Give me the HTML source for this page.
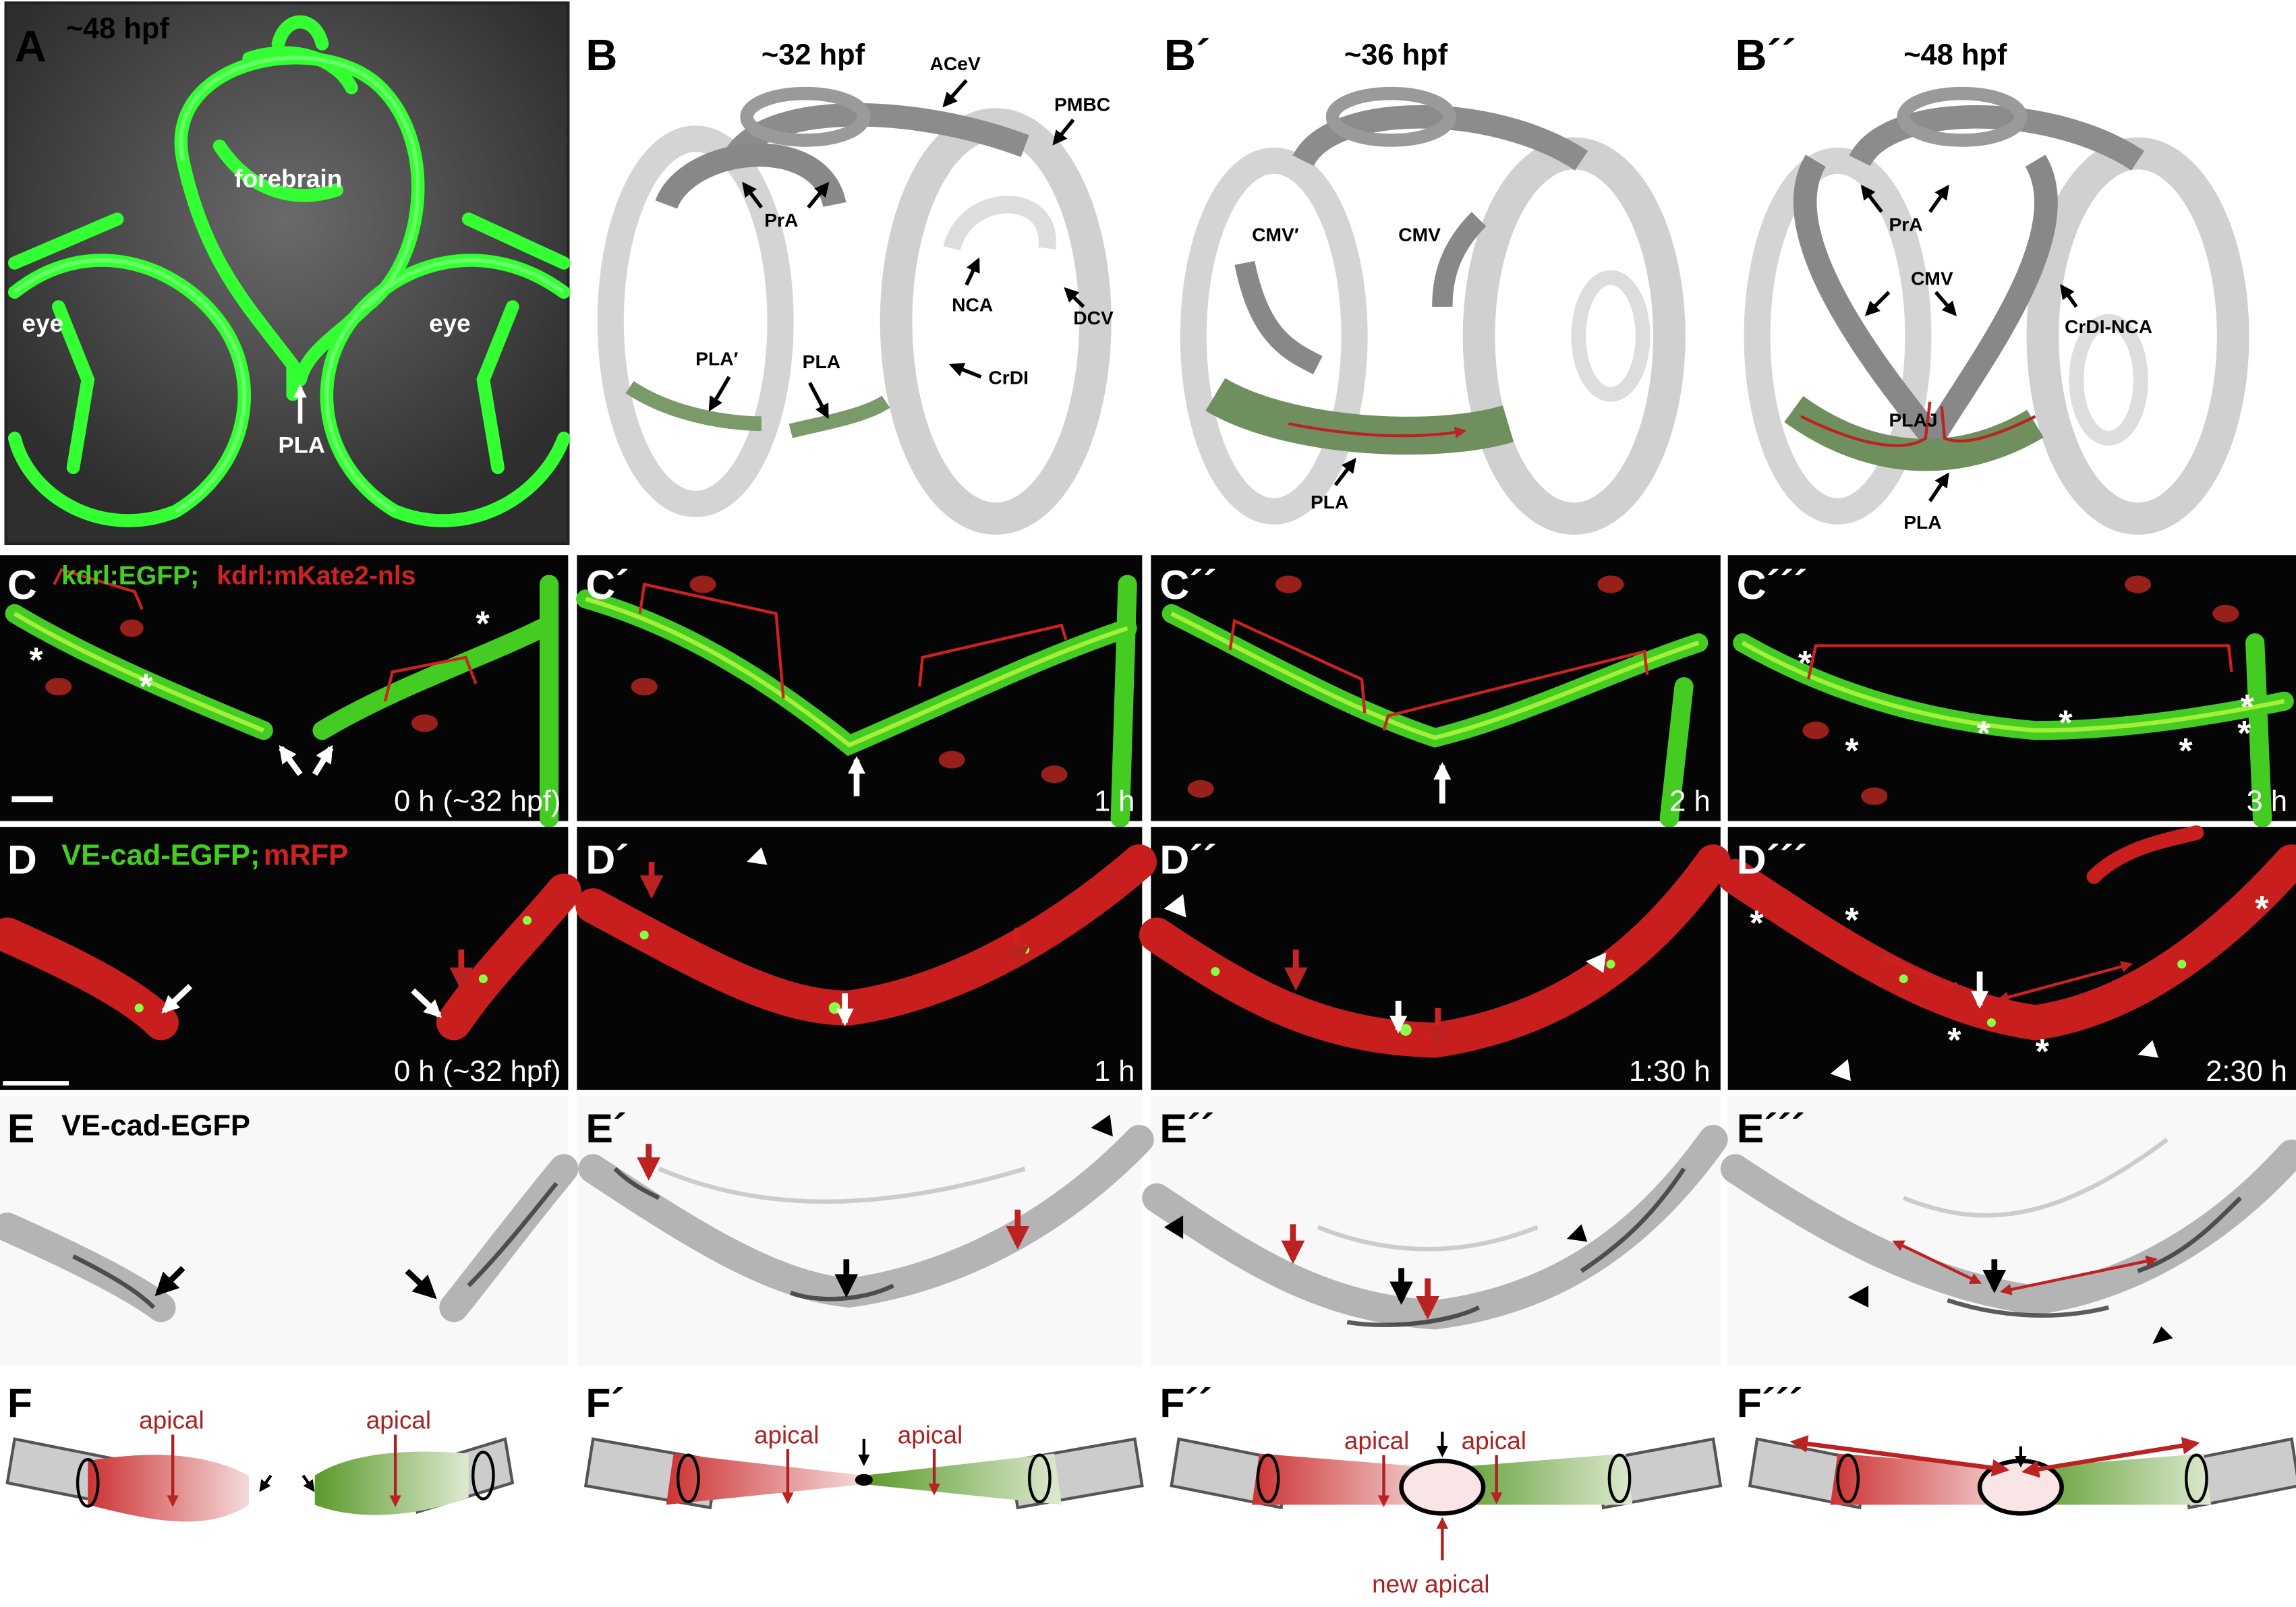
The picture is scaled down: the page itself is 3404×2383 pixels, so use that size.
<!DOCTYPE html>
<html><head><meta charset="utf-8"><style>
html,body{margin:0;padding:0;background:#fff;}
svg{display:block;}
text{font-family:"Liberation Sans",sans-serif;}
</style></head><body>
<svg width="3404" height="2383" viewBox="0 0 1568 1100" preserveAspectRatio="none" xmlns="http://www.w3.org/2000/svg">
<defs>
<marker id="ab" viewBox="0 0 10 10" refX="8" refY="5" markerWidth="4" markerHeight="4" orient="auto"><path d="M0,0L10,5L0,10z" fill="#000"/></marker>
<marker id="aw" viewBox="0 0 10 10" refX="8" refY="5" markerWidth="3" markerHeight="3" orient="auto"><path d="M0,0L10,5L0,10z" fill="#fff"/></marker>
<marker id="ar" viewBox="0 0 10 10" refX="8" refY="5" markerWidth="4" markerHeight="4" orient="auto"><path d="M0,0L10,5L0,10z" fill="#b22"/></marker>
<marker id="ars" viewBox="0 0 10 10" refX="2" refY="5" markerWidth="4" markerHeight="4" orient="auto-start-reverse"><path d="M0,0L10,5L0,10z" fill="#b22"/></marker>
<radialGradient id="ga" cx="50%" cy="40%" r="60%"><stop offset="0" stop-color="#6a6a6a"/><stop offset="1" stop-color="#2e2e2e"/></radialGradient>
<linearGradient id="fr" x1="0" x2="1"><stop offset="0" stop-color="#c33"/><stop offset="1" stop-color="#f5dada"/></linearGradient>
<linearGradient id="fg" x1="1" x2="0"><stop offset="0" stop-color="#dde9d0"/><stop offset="1" stop-color="#5a9a2a"/></linearGradient>
</defs>
<!-- Panel A -->
<rect x="4" y="2" width="384" height="370" fill="url(#ga)" stroke="#222" stroke-width="2"/>
<g fill="none" stroke="#3f3" stroke-width="9" stroke-linecap="round">
<path d="M125,110 C110,40 220,20 260,60 C300,100 290,180 250,210 C230,230 210,240 205,260"/>
<path d="M125,110 C140,180 170,210 200,250"/>
<path d="M170,40 C200,30 230,40 240,60"/>
<path d="M10,200 C60,160 120,180 150,220 C180,260 170,320 120,350 C70,370 20,340 10,300"/>
<path d="M385,200 C330,160 270,180 240,220 C210,260 220,320 270,350 C320,370 370,340 385,300"/>
<path d="M40,210 L60,260 L50,320 M350,210 L330,260 L340,320"/>
<path d="M200,250 L200,270 M10,180 L80,150 M385,180 L320,150"/>
<path d="M150,100 C170,130 200,140 230,130 M190,30 C195,10 215,10 220,30"/>
</g>
<g fill="none" stroke="#8f8" stroke-width="3" opacity="0.6">
<path d="M125,110 C110,40 220,20 260,60 C300,100 290,180 250,210"/>
<path d="M10,200 C60,160 120,180 150,220 C180,260 170,320 120,350"/>
<path d="M385,200 C330,160 270,180 240,220 C210,260 220,320 270,350"/>
</g>
<text x="10" y="42" font-size="30" font-weight="bold" fill="#000">A</text>
<text x="45" y="26" font-size="20" font-weight="bold" fill="#000">~48 hpf</text>
<text x="160" y="128" font-size="17" font-weight="bold" fill="#fff">forebrain</text>
<text x="15" y="227" font-size="17" font-weight="bold" fill="#fff">eye</text>
<text x="293" y="227" font-size="17" font-weight="bold" fill="#fff">eye</text>
<text x="190" y="310" font-size="16" font-weight="bold" fill="#fff">PLA</text>
<path d="M205,290 L205,265" stroke="#fff" stroke-width="3" marker-end="url(#aw)"/>
<!-- B panels -->
<g>
<text x="400" y="48" font-size="30" font-weight="bold">B</text>
<text x="520" y="44" font-size="20" font-weight="bold">~32 hpf</text>
<ellipse cx="475" cy="220" rx="58" ry="125" fill="none" stroke="#d4d4d4" stroke-width="18"/>
<ellipse cx="680" cy="220" rx="68" ry="135" fill="none" stroke="#d0d0d0" stroke-width="22"/>
<path d="M500,110 C520,70 620,70 700,100" fill="none" stroke="#8c8c8c" stroke-width="16"/>
<ellipse cx="550" cy="80" rx="40" ry="16" fill="none" stroke="#9a9a9a" stroke-width="9"/>
<path d="M455,140 C470,100 560,90 570,140" fill="none" stroke="#888" stroke-width="16"/>
<path d="M650,170 C660,130 720,130 715,170" fill="none" stroke="#ddd" stroke-width="12"/>
<path d="M430,265 C460,285 500,290 520,290" stroke="#7a9a6a" stroke-width="10" fill="none"/>
<path d="M540,295 C560,290 590,285 605,275" stroke="#7a9a6a" stroke-width="10" fill="none"/>
<g font-size="13" font-weight="bold"><text x="635" y="48">ACeV</text><text x="720" y="76">PMBC</text><text x="522" y="155">PrA</text><text x="650" y="213">NCA</text><text x="733" y="222">DCV</text><text x="475" y="250">PLA′</text><text x="548" y="252">PLA</text><text x="675" y="263">CrDI</text></g>
<g stroke="#000" stroke-width="2.5" marker-end="url(#ab)">
<path d="M660,55 L645,72"/><path d="M733,82 L720,98"/><path d="M520,142 L508,126"/><path d="M552,142 L565,126"/>
<path d="M660,195 L668,178"/><path d="M740,210 L728,198"/><path d="M670,258 L650,250"/><path d="M498,258 L485,280"/><path d="M553,262 L565,285"/>
</g>
</g>
<g>
<text x="795" y="48" font-size="30" font-weight="bold">B´</text>
<text x="918" y="44" font-size="20" font-weight="bold">~36 hpf</text>
<ellipse cx="870" cy="230" rx="55" ry="120" fill="none" stroke="#d4d4d4" stroke-width="18"/>
<ellipse cx="1075" cy="230" rx="65" ry="125" fill="none" stroke="#d0d0d0" stroke-width="22"/>
<ellipse cx="1100" cy="230" rx="22" ry="40" fill="none" stroke="#ddd" stroke-width="10"/>
<path d="M890,110 C910,70 1020,70 1080,110" fill="none" stroke="#8c8c8c" stroke-width="16"/>
<ellipse cx="950" cy="80" rx="40" ry="16" fill="none" stroke="#9a9a9a" stroke-width="9"/>
<path d="M850,180 C860,230 880,240 900,250" fill="none" stroke="#888" stroke-width="14"/>
<path d="M1010,150 C990,170 985,190 985,210" fill="none" stroke="#888" stroke-width="14"/>
<path d="M830,270 C880,300 980,305 1030,290" stroke="#6f8f5f" stroke-width="26" fill="none"/>
<path d="M880,290 C930,300 970,300 1000,295" stroke="#b22" stroke-width="2" fill="none" marker-end="url(#ar)"/>
<g font-size="13" font-weight="bold"><text x="855" y="165">CMV′</text><text x="955" y="165">CMV</text><text x="895" y="348">PLA</text></g>
<path d="M912,332 L925,315" stroke="#000" stroke-width="2.5" marker-end="url(#ab)"/>
</g>
<g>
<text x="1185" y="48" font-size="30" font-weight="bold">B´´</text>
<text x="1300" y="44" font-size="20" font-weight="bold">~48 hpf</text>
<ellipse cx="1255" cy="230" rx="55" ry="120" fill="none" stroke="#d4d4d4" stroke-width="18"/>
<ellipse cx="1460" cy="230" rx="65" ry="125" fill="none" stroke="#d0d0d0" stroke-width="22"/>
<ellipse cx="1440" cy="260" rx="22" ry="40" fill="none" stroke="#ddd" stroke-width="10"/>
<path d="M1270,110 C1290,70 1400,70 1460,110" fill="none" stroke="#8c8c8c" stroke-width="16"/>
<ellipse cx="1340" cy="80" rx="40" ry="16" fill="none" stroke="#9a9a9a" stroke-width="9"/>
<path d="M1240,110 C1210,160 1280,250 1320,300 C1350,250 1420,160 1390,110" fill="none" stroke="#888" stroke-width="16"/>
<path d="M1225,280 C1280,320 1340,320 1390,290" stroke="#6f8f5f" stroke-width="22" fill="none"/>
<path d="M1230,285 C1270,305 1300,310 1315,300 L1318,275 M1390,285 C1360,300 1340,305 1328,300 L1326,278" stroke="#b22" stroke-width="2" fill="none"/>
<g font-size="13" font-weight="bold"><text x="1290" y="158">PrA</text><text x="1305" y="195">CMV</text><text x="1410" y="228">CrDI-NCA</text><text x="1290" y="292">PLAJ</text><text x="1300" y="362">PLA</text></g>
<g stroke="#000" stroke-width="2.5" marker-end="url(#ab)">
<path d="M1285,145 L1272,128"/><path d="M1318,145 L1330,128"/><path d="M1290,200 L1275,215"/><path d="M1322,200 L1335,215"/><path d="M1418,210 L1408,196"/><path d="M1318,343 L1330,325"/>
</g>
</g>
<!-- C row -->
<g>
<rect x="0" y="380" width="388" height="182" fill="#050505"/>
<rect x="394" y="380" width="386" height="182" fill="#050505"/>
<rect x="786" y="380" width="389" height="182" fill="#050505"/>
<rect x="1180" y="380" width="388" height="182" fill="#050505"/>
<g fill="#b3261e" opacity="0.85">
<ellipse cx="40" cy="470" rx="9" ry="6"/><ellipse cx="290" cy="495" rx="9" ry="6"/><ellipse cx="480" cy="400" rx="9" ry="6"/><ellipse cx="440" cy="470" rx="9" ry="6"/><ellipse cx="650" cy="520" rx="9" ry="6"/><ellipse cx="880" cy="400" rx="9" ry="6"/><ellipse cx="1100" cy="400" rx="9" ry="6"/><ellipse cx="820" cy="540" rx="9" ry="6"/><ellipse cx="1240" cy="500" rx="9" ry="6"/><ellipse cx="1460" cy="400" rx="9" ry="6"/><ellipse cx="1520" cy="420" rx="9" ry="6"/><ellipse cx="1280" cy="545" rx="9" ry="6"/><ellipse cx="90" cy="430" rx="8" ry="6"/><ellipse cx="720" cy="530" rx="9" ry="6"/>
</g>
<g fill="none" stroke="#4c2" stroke-width="13" stroke-linecap="round">
<path d="M10,420 C60,450 120,475 180,500 M220,500 C270,470 330,450 370,430"/>
<path d="M400,410 C470,430 530,470 580,510 C650,480 710,450 770,430"/>
<path d="M800,420 C860,450 920,485 980,505 C1040,490 1100,460 1160,440"/>
<path d="M1190,440 C1260,480 1330,495 1390,500 C1450,500 1510,490 1560,480"/>
<path d="M375,400 L375,560 M770,400 L765,560 M1150,470 L1140,560 M1540,440 L1545,560"/>
</g>
<g fill="none" stroke="#cf4" stroke-width="3" opacity="0.7">
<path d="M10,420 C60,450 120,475 180,500"/><path d="M400,410 C470,430 530,470 580,510 C650,480 710,450 770,430"/><path d="M800,420 C860,450 920,485 980,505 C1040,490 1100,460 1160,440"/><path d="M1190,440 C1260,480 1330,495 1390,500 C1450,500 1510,490 1560,480"/>
</g>
<g fill="none" stroke="#c22" stroke-width="2">
<path d="M37,400 L42,390 L92,405 L97,417"/><path d="M263,480 L268,460 L318,450 L325,468"/>
<path d="M437,420 L440,400 L530,420 L535,478"/><path d="M628,470 L630,450 L725,428 L728,438"/>
<path d="M840,445 L843,425 L930,465 L932,488"/><path d="M945,500 L948,490 L1123,446 L1125,462"/>
<path d="M1235,465 L1240,442 L1522,442 L1524,460"/>
</g>
<g font-size="24" font-weight="bold" fill="#fff"><text x="20" y="460">*</text><text x="95" y="478">*</text><text x="325" y="435">*</text><text x="1228" y="462">*</text><text x="1530" y="492">*</text><text x="1260" y="522">*</text><text x="1350" y="510">*</text><text x="1406" y="503">*</text><text x="1488" y="522">*</text><text x="1528" y="510">*</text></g>
<g stroke="#fff" stroke-width="4" marker-end="url(#aw)">
<path d="M205,530 L192,512"/><path d="M215,530 L226,512"/><path d="M585,545 L585,520"/><path d="M985,550 L985,524"/>
</g>
<g font-size="28" font-weight="bold" fill="#fff"><text x="5" y="410">C</text><text x="400" y="410">C´</text><text x="792" y="410">C´´</text><text x="1186" y="410">C´´´</text></g>
<text x="42" y="400" font-size="18" font-weight="bold" fill="#4c2">kdrl:EGFP;</text><text x="148" y="400" font-size="18" font-weight="bold" fill="#c22">kdrl:mKate2-nls</text>
<g font-size="20" fill="#fff" text-anchor="end"><text x="383" y="555">0 h (~32 hpf)</text><text x="775" y="555">1 h</text><text x="1168" y="555">2 h</text><text x="1562" y="555">3 h</text></g>
<rect x="8" y="545" width="28" height="4" fill="#fff"/>
</g>
<!-- D row -->
<g>
<rect x="0" y="566" width="388" height="180" fill="#050505"/>
<rect x="394" y="566" width="386" height="180" fill="#050505"/>
<rect x="786" y="566" width="389" height="180" fill="#050505"/>
<rect x="1180" y="566" width="388" height="180" fill="#050505"/>
<g fill="none" stroke="#c81e1e" stroke-width="24" stroke-linecap="round">
<path d="M5,640 C50,660 90,680 110,700 M310,700 C330,670 360,640 385,610"/>
<path d="M405,620 C480,660 530,690 580,690 C650,680 720,640 778,590"/>
<path d="M790,640 C850,680 900,710 980,712 C1060,700 1120,660 1170,590"/>
<path d="M1185,600 C1260,650 1320,690 1390,700 C1460,690 1520,640 1565,590"/>
<path d="M1430,600 C1450,580 1480,575 1500,570" stroke-width="10"/>
</g>
<g fill="#8f4"><circle cx="95" cy="690" r="3"/><circle cx="330" cy="670" r="3"/><circle cx="360" cy="630" r="3"/><circle cx="570" cy="690" r="4"/><circle cx="440" cy="640" r="3"/><circle cx="700" cy="650" r="3"/><circle cx="960" cy="705" r="4"/><circle cx="830" cy="665" r="3"/><circle cx="1100" cy="660" r="3"/><circle cx="1360" cy="700" r="3"/><circle cx="1300" cy="670" r="3"/><circle cx="1490" cy="660" r="3"/></g>
<g stroke="#c22" stroke-width="4" marker-end="url(#ar)"><path d="M315,650 L315,675"/><path d="M445,590 L445,612"/><path d="M695,635 L695,660"/><path d="M885,650 L885,675"/><path d="M982,690 L982,715"/></g>
<g stroke="#c22" stroke-width="2" marker-end="url(#ar)" marker-start="url(#ars)"><path d="M1285,655 L1340,678"/><path d="M1370,683 L1455,660"/></g>
<g stroke="#fff" stroke-width="4" marker-end="url(#aw)"><path d="M130,675 L112,692"/><path d="M282,678 L300,695"/><path d="M577,680 L577,700"/><path d="M955,685 L955,705"/><path d="M1352,665 L1352,688"/></g>
<g fill="#fff"><path d="M520,580 L510,590 L524,592z"/><path d="M795,622 L808,612 L810,628z"/><path d="M1097,652 L1083,658 L1095,666z"/><path d="M1250,735 L1262,725 L1264,740z"/><path d="M1470,712 L1460,722 L1474,724z"/></g>
<g font-size="24" font-weight="bold" fill="#fff"><text x="1195" y="640">*</text><text x="1260" y="638">*</text><text x="1330" y="720">*</text><text x="1390" y="728">*</text><text x="1540" y="630">*</text></g>
<g font-size="28" font-weight="bold" fill="#fff"><text x="5" y="598">D</text><text x="400" y="598">D´</text><text x="792" y="598">D´´</text><text x="1186" y="598">D´´´</text></g>
<text x="42" y="592" font-size="20" font-weight="bold" fill="#4c2">VE-cad-EGFP;</text><text x="180" y="592" font-size="20" font-weight="bold" fill="#c22">mRFP</text>
<g font-size="20" fill="#fff" text-anchor="end"><text x="383" y="740">0 h (~32 hpf)</text><text x="775" y="740">1 h</text><text x="1168" y="740">1:30 h</text><text x="1562" y="740">2:30 h</text></g>
<rect x="2" y="740" width="45" height="3" fill="#fff"/>
</g>
<!-- E row -->
<g>
<rect x="0" y="750" width="388" height="185" fill="#f8f8f8"/>
<rect x="394" y="750" width="386" height="185" fill="#f8f8f8"/>
<rect x="786" y="750" width="389" height="185" fill="#f8f8f8"/>
<rect x="1180" y="750" width="388" height="185" fill="#f8f8f8"/>
<g fill="none" stroke="#b4b4b4" stroke-width="20" stroke-linecap="round">
<path d="M5,840 C50,860 90,880 110,895 M310,895 C330,870 360,830 385,800"/>
<path d="M405,800 C480,850 530,880 580,885 C650,875 720,840 778,780"/>
<path d="M790,820 C850,860 900,895 980,900 C1060,890 1120,850 1170,780"/>
<path d="M1185,800 C1260,850 1320,880 1390,890 C1460,880 1520,840 1565,790"/>
</g>
<g fill="none" stroke="#333" stroke-width="3" opacity="0.8">
<path d="M50,860 C80,875 95,885 105,895"/><path d="M320,880 C340,860 360,835 380,810"/>
<path d="M540,885 C560,892 590,890 610,880"/><path d="M420,800 C430,810 440,815 450,820"/>
<path d="M920,905 C950,910 990,905 1010,895"/><path d="M1080,870 C1110,850 1130,830 1150,800"/>
<path d="M1330,890 C1360,900 1400,905 1440,895"/><path d="M1460,870 C1490,860 1510,840 1530,820"/>
</g>
<g fill="none" stroke="#ccc" stroke-width="3"><path d="M450,800 C520,830 600,830 700,800"/><path d="M900,840 C950,860 1000,860 1050,840"/><path d="M1300,820 C1350,840 1400,840 1480,780"/></g>
<g stroke="#000" stroke-width="4" marker-end="url(#ab)"><path d="M125,868 L108,885"/><path d="M278,870 L296,887"/><path d="M578,862 L578,885"/><path d="M957,868 L957,890"/><path d="M1362,862 L1362,882"/></g>
<g stroke="#b22" stroke-width="4" marker-end="url(#ar)"><path d="M443,783 L443,805"/><path d="M695,828 L695,852"/><path d="M883,838 L883,862"/><path d="M975,875 L975,900"/></g>
<g stroke="#b22" stroke-width="2" marker-end="url(#ar)" marker-start="url(#ars)"><path d="M1298,852 L1352,878"/><path d="M1372,883 L1472,862"/></g>
<g fill="#000"><path d="M758,763 L745,772 L760,778z"/><path d="M795,840 L808,832 L808,848z"/><path d="M1080,838 L1070,848 L1084,850z"/><path d="M1262,888 L1276,880 L1276,895z"/><path d="M1476,908 L1470,920 L1484,916z"/></g>
<g font-size="28" font-weight="bold" fill="#000"><text x="5" y="782">E</text><text x="400" y="782">E´</text><text x="792" y="782">E´´</text><text x="1186" y="782">E´´´</text></g>
<text x="42" y="777" font-size="20" font-weight="bold">VE-cad-EGFP</text>
</g>
<!-- F row -->
<g font-size="28" font-weight="bold"><text x="5" y="970">F</text><text x="400" y="970">F´</text><text x="792" y="970">F´´</text><text x="1186" y="970">F´´´</text></g>
<g>
<g>
<path d="M10,985 L110,1005 L105,1035 L5,1015z" fill="#ccc" stroke="#555" stroke-width="2"/>
<path d="M280,1005 L345,985 L350,1015 L285,1035z" fill="#ccc" stroke="#555" stroke-width="2"/>
<path d="M60,1000 C120,990 150,1000 170,1010 L170,1030 C140,1050 100,1040 60,1030z" fill="url(#fr)"/>
<path d="M320,995 C260,990 230,1000 215,1010 L215,1030 C240,1040 280,1040 320,1025z" fill="url(#fg)"/>
<ellipse cx="60" cy="1015" rx="7" ry="16" fill="none" stroke="#000" stroke-width="2"/><ellipse cx="330" cy="1010" rx="7" ry="16" fill="none" stroke="#000" stroke-width="2"/>
<text x="95" y="978" font-size="17" fill="#a22">apical</text><text x="250" y="978" font-size="17" fill="#a22">apical</text>
<g stroke="#a22" stroke-width="2" marker-end="url(#ar)"><path d="M118,982 L118,1030"/><path d="M270,982 L270,1030"/></g>
<g stroke="#000" stroke-width="2" marker-end="url(#ab)"><path d="M185,1010 L178,1020"/><path d="M207,1010 L214,1020"/></g>
</g>
<g>
<path d="M405,985 L490,1000 L485,1032 L400,1017z" fill="#ccc" stroke="#555" stroke-width="2"/>
<path d="M690,1000 L775,985 L780,1017 L695,1032z" fill="#ccc" stroke="#555" stroke-width="2"/>
<path d="M460,995 L590,1010 L590,1016 L455,1030z" fill="url(#fr)"/>
<path d="M720,995 L590,1010 L590,1016 L725,1030z" fill="url(#fg)"/>
<ellipse cx="590" cy="1013" rx="6" ry="4"/>
<ellipse cx="470" cy="1012" rx="7" ry="16" fill="none" stroke="#000" stroke-width="2"/><ellipse cx="710" cy="1012" rx="7" ry="16" fill="none" stroke="#000" stroke-width="2"/>
<text x="515" y="988" font-size="17" fill="#a22">apical</text><text x="613" y="988" font-size="17" fill="#a22">apical</text>
<g stroke="#a22" stroke-width="2" marker-end="url(#ar)"><path d="M538,992 L538,1028"/><path d="M638,992 L638,1022"/></g>
<path d="M590,985 L590,1002" stroke="#000" stroke-width="2" marker-end="url(#ab)"/>
</g>
<g>
<path d="M805,985 L880,1000 L875,1032 L800,1017z" fill="#ccc" stroke="#555" stroke-width="2"/>
<path d="M1090,1000 L1170,985 L1175,1017 L1095,1032z" fill="#ccc" stroke="#555" stroke-width="2"/>
<path d="M860,995 L985,1005 L985,1030 L855,1030z" fill="url(#fr)"/>
<path d="M1110,995 L985,1005 L985,1030 L1115,1030z" fill="url(#fg)"/>
<ellipse cx="866" cy="1012" rx="7" ry="16" fill="none" stroke="#000" stroke-width="2"/><ellipse cx="1106" cy="1012" rx="7" ry="16" fill="none" stroke="#000" stroke-width="2"/>
<ellipse cx="985" cy="1018" rx="28" ry="18" fill="#f9e5e5" stroke="#000" stroke-width="3"/>
<text x="918" y="992" font-size="17" fill="#a22">apical</text><text x="998" y="992" font-size="17" fill="#a22">apical</text><text x="937" y="1090" font-size="17" fill="#a22">new apical</text>
<g stroke="#a22" stroke-width="2" marker-end="url(#ar)"><path d="M945,996 L945,1030"/><path d="M1022,996 L1022,1028"/><path d="M985,1068 L985,1040"/></g>
<path d="M985,980 L985,996" stroke="#000" stroke-width="2" marker-end="url(#ab)"/>
</g>
<g>
<path d="M1200,985 L1275,1000 L1270,1032 L1195,1017z" fill="#ccc" stroke="#555" stroke-width="2"/>
<path d="M1490,1000 L1565,985 L1570,1017 L1495,1032z" fill="#ccc" stroke="#555" stroke-width="2"/>
<path d="M1255,995 L1380,1005 L1380,1030 L1250,1030z" fill="url(#fr)"/>
<path d="M1505,995 L1380,1005 L1380,1030 L1510,1030z" fill="url(#fg)"/>
<ellipse cx="1262" cy="1012" rx="7" ry="16" fill="none" stroke="#000" stroke-width="2"/><ellipse cx="1500" cy="1012" rx="7" ry="16" fill="none" stroke="#000" stroke-width="2"/>
<ellipse cx="1380" cy="1018" rx="28" ry="18" fill="#f9e5e5" stroke="#000" stroke-width="3"/>
<g stroke="#b22" stroke-width="3" marker-end="url(#ar)" marker-start="url(#ars)"><path d="M1232,988 L1370,1006"/><path d="M1390,1006 L1500,988"/></g>
<path d="M1380,990 L1380,1003" stroke="#000" stroke-width="2" marker-end="url(#ab)"/>
</g>
</g>
</svg>
</body></html>
